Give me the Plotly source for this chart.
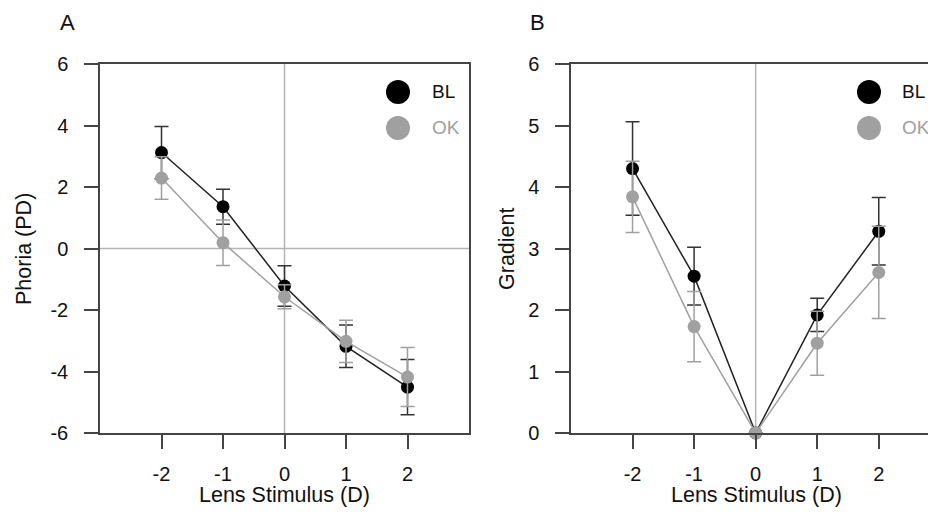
import plotly.graph_objects as go

# Lens stimulus levels (D)
lens = [-2, -1, 0, 1, 2]

# Panel A: phoria (PD), mean and SD
phoria_bl = [3.12, 1.36, -1.22, -3.18, -4.51]
phoria_bl_sd = [0.85, 0.57, 0.66, 0.69, 0.90]
phoria_ok = [2.29, 0.19, -1.57, -3.02, -4.18]
phoria_ok_sd = [0.69, 0.74, 0.39, 0.69, 0.96]

# Panel B: gradient, mean and SD
grad_bl = [4.30, 2.55, 0.0, 1.92, 3.28]
grad_bl_sd = [0.76, 0.47, 0.0, 0.27, 0.55]
grad_ok = [3.84, 1.73, 0.0, 1.46, 2.61]
grad_ok_sd = [0.58, 0.57, 0.0, 0.52, 0.75]

series_names = ["BL", "OK"]
x_ticks = [-2, -1, 0, 1, 2]
x_tick_text = ["-2", "-1", "0", "1", "2"]
phoria_ticks = [-6, -4, -2, 0, 2, 4, 6]
phoria_tick_text = ["-6", "-4", "-2", "0", "2", "4", "6"]
grad_ticks = [0, 1, 2, 3, 4, 5, 6]
grad_tick_text = ["0", "1", "2", "3", "4", "5", "6"]

BLACK = "#000000"
BL_LINE = "#222222"
GRAY = "#a0a0a0"
AXIS = "#444444"
REF = "#b4b4b4"
FONT = "Liberation Sans, Arial, sans-serif"

W, H = 928, 517


def px(x):
    return x / W


def py(y):
    return 1 - y / H


fig = go.Figure()


def add_series(y, sd, color, line_color, err_color, xa, ya):
    fig.add_trace(go.Scatter(
        x=lens, y=y, mode="lines+markers",
        line=dict(color=line_color, width=1.5),
        marker=dict(color=color, size=13, line=dict(width=0)),
        error_y=dict(type="data", array=sd, visible=True,
                     color=err_color, thickness=1.5, width=7),
        xaxis=xa, yaxis=ya, showlegend=False, cliponaxis=False,
    ))


add_series(phoria_bl, phoria_bl_sd, BLACK, BL_LINE, "#333333", "x", "y")
add_series(phoria_ok, phoria_ok_sd, GRAY, GRAY, GRAY, "x", "y")
add_series(grad_bl, grad_bl_sd, BLACK, BL_LINE, "#333333", "x2", "y2")
add_series(grad_ok, grad_ok_sd, GRAY, GRAY, GRAY, "x2", "y2")

y_dom = [py(433), py(64)]
axis_common = dict(
    showline=True, linecolor=AXIS, linewidth=1.5,
    ticks="outside", ticklen=14, tickwidth=1.5, tickcolor=AXIS,
    showgrid=False, zeroline=False, automargin=False,
    tickfont=dict(family=FONT, size=20, color="#111111"),
)

fig.update_layout(
    width=W, height=H,
    margin=dict(l=0, r=0, t=0, b=0, pad=0, autoexpand=False),
    plot_bgcolor="white", paper_bgcolor="white",
    xaxis=dict(domain=[px(100), px(469)], range=[-3, 3], anchor="y",
               tickvals=x_ticks, ticktext=x_tick_text, mirror=True,
               ticklabelstandoff=8, **axis_common),
    yaxis=dict(domain=y_dom, range=[-6, 6], anchor="x",
               tickvals=phoria_ticks, ticktext=phoria_tick_text, mirror=True,
               ticklabelstandoff=12, **axis_common),
    xaxis2=dict(domain=[px(571), 1.0], range=[-3, 2.8], anchor="y2",
                tickvals=x_ticks, ticktext=x_tick_text, mirror=True,
                ticklabelstandoff=8, **axis_common),
    yaxis2=dict(domain=y_dom, range=[0, 6], anchor="x2",
                tickvals=grad_ticks, ticktext=grad_tick_text, mirror=False,
                ticklabelstandoff=12, **axis_common),
)

# Zero reference lines
ref = dict(color=REF, width=1.5)
fig.add_shape(type="line", xref="x domain", yref="y", x0=0, x1=1, y0=0, y1=0,
              line=ref, layer="below")
fig.add_shape(type="line", xref="x", yref="y domain", x0=0, x1=0, y0=0, y1=1,
              line=ref, layer="below")
fig.add_shape(type="line", xref="x2", yref="y2 domain", x0=0, x1=0, y0=0, y1=1,
              line=ref, layer="below")

# Legend keys for each panel
for cx, tx in [(398, 430), (869, 900)]:
    for i, (name, col) in enumerate(zip(series_names, [BLACK, GRAY])):
        cy = 92 + i * 36
        fig.add_shape(type="circle", xref="paper", yref="paper",
                      xsizemode="pixel", ysizemode="pixel",
                      xanchor=px(cx), yanchor=py(cy),
                      x0=-12, x1=12, y0=-12, y1=12,
                      fillcolor=col, line=dict(width=0))
        fig.add_annotation(x=px(tx), y=py(cy), xref="paper", yref="paper",
                           text=name, showarrow=False, xanchor="left",
                           yanchor="middle",
                           font=dict(family=FONT, size=19,
                                     color="#111111" if name == "BL" else GRAY))


def label(text, x, y, size, angle=0):
    fig.add_annotation(x=px(x), y=py(y), xref="paper", yref="paper",
                       text=text, textangle=angle, showarrow=False,
                       xanchor="center", yanchor="middle",
                       font=dict(family=FONT, size=size, color="#111111"))


# Panel letters and axis titles
label("A", 67, 23, 22)
label("B", 537, 23, 22)
label("Lens Stimulus (D)", 284, 495, 21.5)
label("Lens Stimulus (D)", 756, 495, 21.5)
label("Phoria (PD)", 24, 249, 21.5, -90)
label("Gradient", 507, 249, 21.5, -90)

fig.write_html("out.html")
